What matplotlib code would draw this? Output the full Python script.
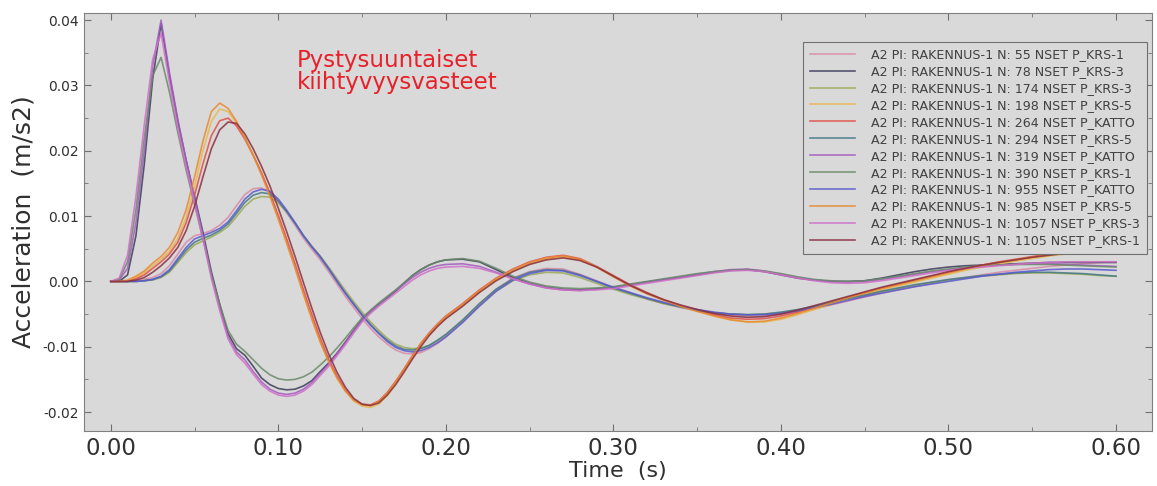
import numpy as np
import matplotlib
matplotlib.use("Agg")
import matplotlib.pyplot as plt
from matplotlib.ticker import MultipleLocator, FormatStrFormatter

# time grid (s): 5 ms steps to 0.20 s, then 10 ms steps to 0.60 s
time_s = np.concatenate([np.round(np.arange(0, 0.2001, 0.005), 3),
                         np.round(np.arange(0.21, 0.6001, 0.01), 2)])

# accelerations in units of 1e-3 m/s2
n55 = [0, 0, 0, 0.1, 0.3, 0.6, 1.2, 2.4, 4.2, 6.0, 7.0, 7.3, 7.8, 8.6, 9.8, 11.6, 13.3, 14.2, 14.3, 13.7,
       12.3, 10.5, 8.6, 6.6, 4.9, 3.3, 1.5, -0.4, -2.3, -4.0, -5.7, -7.2, -8.5, -9.6, -10.5, -11.0, -11.1, -10.9, -10.3, -9.5,
       -8.5,
       -6.1, -3.5, -1.2, 0.5, 1.5, 2.0, 1.9, 1.1, 0.1, -0.9, -1.8, -2.7, -3.4, -4.0, -4.5, -4.9, -5.2, -5.3, -5.3, -5.1,
       -4.7, -4.2, -3.6, -3.0, -2.4, -1.8, -1.3, -0.8, -0.3, 0.2, 0.6, 1.0, 1.4, 1.7, 2.0, 2.3, 2.5, 2.7, 2.9, 3.0]
n78 = [0, 0, 1.0, 7, 18, 31, 39.5, 31.5, 24.5, 18.5, 13, 7.5, 1.5, -3.5, -8, -10.3, -11.3, -13, -14.8, -15.8,
       -16.4, -16.6, -16.5, -16, -15.2, -13.8, -12.5, -11, -9.3, -7.5, -5.8, -4.6, -3.5, -2.5, -1.5, -0.3, 0.9, 1.8, 2.5, 3.0,
       3.3,
       3.4, 3.0, 1.8, 0.6, -0.3, -0.9, -1.2, -1.3, -1.1, -0.9, -0.5, -0.1, 0.3, 0.6, 1.0, 1.4, 1.7, 1.8, 1.5, 1.0,
       0.5, 0.2, 0.0, 0.0, 0.1, 0.5, 1.0, 1.5, 1.9, 2.2, 2.4, 2.5, 2.6, 2.7, 2.8, 2.9, 2.9, 2.9, 2.9, 2.9]
n174 = [0, 0, 0, 0, 0.1, 0.2, 0.6, 1.4, 2.9, 4.4, 5.6, 6.2, 6.8, 7.5, 8.4, 9.9, 11.5, 12.6, 13.0, 12.9,
        12.0, 10.6, 8.9, 7.0, 5.4, 3.9, 2.2, 0.4, -1.4, -3.1, -4.7, -6.2, -7.5, -8.7, -9.6, -10.1, -10.3, -10.2, -9.8, -9.1,
        -8.2,
        -6.1, -3.7, -1.5, 0.1, 1.0, 1.4, 1.3, 0.6, -0.3, -1.2, -2.0, -2.7, -3.4, -3.9, -4.4, -4.8, -5.0, -5.1, -5.0, -4.8,
        -4.4, -3.9, -3.3, -2.7, -2.1, -1.6, -1.1, -0.6, -0.2, 0.2, 0.5, 0.8, 1.0, 1.2, 1.3, 1.3, 1.2, 1.1, 0.9, 0.8]
n198 = [0, 0, 0.1, 0.6, 1.3, 2.4, 3.4, 4.6, 6.6, 9.8, 14.5, 20, 24.5, 26.4, 26.0, 24.3, 22.0, 19.4, 16.5, 13.3,
        9.8, 6.1, 2.3, -1.7, -5.5, -9.0, -12.1, -14.7, -16.8, -18.3, -19.1, -19.3, -18.8, -17.5, -15.8, -13.8, -11.8, -9.8, -8.2, -6.8,
        -5.6,
        -3.7, -1.6, 0.2, 1.6, 2.7, 3.4, 3.7, 3.3, 2.2, 0.8, -0.6, -1.8, -2.8, -3.7, -4.5, -5.2, -5.8, -6.2, -6.2, -5.8,
        -5.1, -4.3, -3.5, -2.7, -2.0, -1.3, -0.7, -0.1, 0.5, 1.1, 1.7, 2.2, 2.7, 3.1, 3.5, 3.9, 4.2, 4.4, 4.6, 4.7]
n264 = [0, 0, 0, 0.4, 1.0, 2.0, 3.0, 4.2, 6.0, 9.0, 13.2, 18.0, 22.3, 24.6, 25.0, 23.8, 21.8, 19.3, 16.6, 13.5,
        10.1, 6.5, 2.7, -1.3, -5.1, -8.7, -11.9, -14.5, -16.6, -18.1, -18.8, -18.9, -18.3, -17.0, -15.3, -13.4, -11.4, -9.5, -7.9, -6.5,
        -5.3,
        -3.4, -1.3, 0.5, 1.9, 3.0, 3.7, 4.0, 3.5, 2.3, 0.9, -0.5, -1.7, -2.8, -3.7, -4.5, -5.1, -5.6, -5.8, -5.7, -5.3,
        -4.7, -4.0, -3.2, -2.4, -1.7, -1.0, -0.4, 0.2, 0.8, 1.4, 2.0, 2.5, 3.0, 3.4, 3.8, 4.2, 4.5, 4.8, 5.0, 5.1]
n294 = [0, 0, 0, 0, 0.1, 0.3, 0.7, 1.6, 3.2, 4.8, 6.0, 6.6, 7.1, 7.8, 8.8, 10.4, 12.1, 13.2, 13.6, 13.4,
        12.3, 10.7, 8.9, 7.0, 5.3, 3.7, 1.9, 0.0, -1.8, -3.5, -5.1, -6.6, -7.9, -9.0, -9.9, -10.4, -10.5, -10.3, -9.8, -9.0,
        -8.1,
        -5.9, -3.4, -1.2, 0.4, 1.4, 1.8, 1.7, 1.0, 0.0, -1.0, -1.8, -2.6, -3.3, -3.9, -4.4, -4.8, -5.0, -5.1, -5.0, -4.7,
        -4.3, -3.8, -3.2, -2.6, -2.1, -1.5, -1.0, -0.5, -0.1, 0.3, 0.6, 0.9, 1.1, 1.3, 1.4, 1.4, 1.3, 1.2, 1.0, 0.8]
n319 = [0, 0.2, 2, 9, 20, 33, 40, 32, 24.8, 18.5, 12.8, 7, 1, -4, -8.5, -10.8, -12, -13.8, -15.4, -16.5,
        -17.1, -17.3, -17.1, -16.5, -15.5, -14.1, -12.7, -11.1, -9.4, -7.6, -5.9, -4.6, -3.5, -2.4, -1.4, -0.4, 0.6, 1.4, 2.0, 2.4,
        2.6,
        2.7, 2.3, 1.4, 0.4, -0.4, -1.0, -1.3, -1.4, -1.2, -0.9, -0.5, -0.1, 0.3, 0.7, 1.1, 1.5, 1.8, 1.9, 1.6, 1.1,
        0.6, 0.2, 0.0, -0.1, 0.0, 0.3, 0.7, 1.1, 1.5, 1.8, 2.1, 2.3, 2.5, 2.6, 2.7, 2.7, 2.6, 2.5, 2.4, 2.3]
n390 = [0, 0.3, 3, 11, 22, 31.5, 34.3, 29, 22.8, 17, 11.8, 6.5, 1.0, -3.5, -7.5, -9.6, -10.7, -12, -13.3, -14.3,
        -14.9, -15.1, -15.0, -14.6, -13.9, -12.8, -11.6, -10.2, -8.7, -7.1, -5.6, -4.4, -3.3, -2.3, -1.3, -0.2, 0.9, 1.8, 2.5, 3.0,
        3.3,
        3.5, 3.1, 2.0, 0.8, -0.1, -0.7, -1.0, -1.1, -1.0, -0.8, -0.4, 0.0, 0.4, 0.8, 1.2, 1.5, 1.7, 1.8, 1.6, 1.2,
        0.7, 0.3, 0.1, 0.0, 0.1, 0.4, 0.8, 1.2, 1.6, 1.9, 2.2, 2.4, 2.5, 2.6, 2.6, 2.6, 2.5, 2.4, 2.3, 2.2]
n955 = [0, 0, 0, 0, 0.1, 0.3, 0.8, 1.8, 3.5, 5.2, 6.5, 7.0, 7.5, 8.1, 9.1, 10.8, 12.6, 13.7, 14.1, 13.8,
        12.6, 10.9, 9.0, 7.0, 5.3, 3.8, 2.0, 0.1, -1.8, -3.5, -5.2, -6.7, -8.0, -9.2, -10.1, -10.6, -10.8, -10.6, -10.1, -9.4,
        -8.5,
        -6.3, -3.8, -1.5, 0.2, 1.2, 1.7, 1.6, 0.9, 0.0, -0.9, -1.7, -2.5, -3.2, -3.8, -4.3, -4.7, -5.0, -5.1, -5.1, -4.9,
        -4.5, -4.0, -3.5, -2.9, -2.3, -1.8, -1.3, -0.8, -0.4, 0.0, 0.4, 0.8, 1.1, 1.4, 1.6, 1.8, 1.9, 1.9, 1.8, 1.7]
n985 = [0, 0, 0.2, 0.8, 1.6, 2.8, 3.8, 5.2, 7.5, 11, 16, 21.5, 26, 27.3, 26.5, 24.5, 22, 19.3, 16.3, 13,
        9.5, 5.8, 2, -2, -5.8, -9.3, -12.3, -14.8, -16.8, -18.2, -18.9, -19.0, -18.4, -17.1, -15.4, -13.5, -11.5, -9.6, -8.0, -6.6,
        -5.4,
        -3.5, -1.4, 0.4, 1.8, 2.9, 3.6, 3.9, 3.4, 2.2, 0.7, -0.7, -1.9, -2.9, -3.8, -4.6, -5.3, -5.9, -6.2, -6.1, -5.6,
        -4.9, -4.1, -3.3, -2.5, -1.8, -1.1, -0.5, 0.1, 0.7, 1.3, 1.9, 2.4, 2.9, 3.3, 3.7, 4.1, 4.4, 4.7, 4.9, 5.0]
n1057 = [0, 0.5, 4, 13, 24, 34, 38, 30.5, 23.5, 17.5, 12, 6.5, 0.5, -4.5, -8.8, -11.2, -12.5, -14.2, -15.8, -16.8,
         -17.4, -17.6, -17.4, -16.8, -15.8, -14.4, -13, -11.4, -9.7, -7.9, -6.2, -4.9, -3.8, -2.8, -1.8, -0.8, 0.2, 1.0, 1.6, 2.0,
         2.2,
         2.3, 2.0, 1.3, 0.4, -0.4, -1.0, -1.3, -1.4, -1.3, -1.1, -0.7, -0.3, 0.1, 0.5, 0.9, 1.3, 1.6, 1.7, 1.5, 1.0,
         0.5, 0.1, -0.2, -0.3, -0.2, 0.1, 0.5, 0.9, 1.3, 1.7, 2.0, 2.2, 2.4, 2.6, 2.8, 2.9, 3.0, 3.0, 3.0, 3.0]
n1105 = [0, 0, 0, 0.2, 0.6, 1.4, 2.4, 3.6, 5.2, 7.8, 11.5, 16.0, 20.3, 23.2, 24.4, 24.2, 22.6, 20.3, 17.6, 14.6,
         11.2, 7.6, 3.8, -0.2, -4.1, -7.8, -11.1, -13.9, -16.2, -17.9, -18.8, -19.0, -18.6, -17.4, -15.8, -13.9, -11.9, -10.0, -8.3, -6.9,
         -5.7,
         -3.8, -1.7, 0.1, 1.5, 2.6, 3.3, 3.6, 3.2, 2.2, 0.8, -0.6, -1.8, -2.8, -3.6, -4.3, -4.9, -5.3, -5.5, -5.4, -5.0,
         -4.4, -3.7, -3.0, -2.3, -1.6, -0.9, -0.3, 0.3, 0.9, 1.5, 2.0, 2.5, 2.9, 3.3, 3.7, 4.0, 4.3, 4.5, 4.7, 4.8]

labels = [
    "A2 PI: RAKENNUS-1 N: 55 NSET P_KRS-1",
    "A2 PI: RAKENNUS-1 N: 78 NSET P_KRS-3",
    "A2 PI: RAKENNUS-1 N: 174 NSET P_KRS-3",
    "A2 PI: RAKENNUS-1 N: 198 NSET P_KRS-5",
    "A2 PI: RAKENNUS-1 N: 264 NSET P_KATTO",
    "A2 PI: RAKENNUS-1 N: 294 NSET P_KRS-5",
    "A2 PI: RAKENNUS-1 N: 319 NSET P_KATTO",
    "A2 PI: RAKENNUS-1 N: 390 NSET P_KRS-1",
    "A2 PI: RAKENNUS-1 N: 955 NSET P_KATTO",
    "A2 PI: RAKENNUS-1 N: 985 NSET P_KRS-5",
    "A2 PI: RAKENNUS-1 N: 1057 NSET P_KRS-3",
    "A2 PI: RAKENNUS-1 N: 1105 NSET P_KRS-1",
]
series = [n55, n78, n174, n198, n264, n294, n319, n390, n955, n985, n1057, n1105]
colors = ["#d88aa8", "#3c3c5a", "#9aaa55", "#e6b850", "#e0504a", "#467888",
          "#a45cc0", "#6a8a6a", "#5a5ad0", "#e88a30", "#d070c8", "#8a3040"]

fig = plt.figure(figsize=(11.57, 4.86), dpi=100)
ax = fig.add_axes([0.0726, 0.1132, 0.9231, 0.8601])
ax.set_facecolor("#d9d9d9")

for vals, lab, col in zip(series, labels, colors):
    ax.plot(time_s, np.array(vals) * 1e-3, color=col, lw=1.2, alpha=0.85, label=lab)

ax.set_xlim(-0.016, 0.6215)
ax.set_ylim(-0.0229, 0.0411)
ax.xaxis.set_major_locator(MultipleLocator(0.1))
ax.xaxis.set_minor_locator(MultipleLocator(0.05))
ax.yaxis.set_major_locator(MultipleLocator(0.01))
ax.yaxis.set_minor_locator(MultipleLocator(0.005))
ax.xaxis.set_major_formatter(FormatStrFormatter("%.2f"))
ax.yaxis.set_major_formatter(FormatStrFormatter("%.2f"))
ax.tick_params(which="both", direction="in", top=True, right=True, color="#707070")
ax.tick_params(which="major", length=5)
ax.tick_params(which="minor", length=3)
ax.tick_params(axis="x", labelsize=16.5, labelcolor="#303030", pad=4)
ax.tick_params(axis="y", labelsize=10, labelcolor="#303030", pad=4)
for sp in ax.spines.values():
    sp.set_color("#808080")

ax.set_xlabel("Time  (s)", fontsize=16, color="#303030", labelpad=1)
ax.set_ylabel("Acceleration  (m/s2)", fontsize=18, color="#303030", labelpad=5)

ax.text(0.111, 0.0356, "Pystysuuntaiset\nkiihtyvyysvasteet", color="#e8202a",
        fontsize=16.5, va="top", ha="left", linespacing=0.95)

leg = ax.legend(loc="upper right", bbox_to_anchor=(0.995, 0.931), borderaxespad=0,
                fontsize=9.1, frameon=True, fancybox=False, edgecolor="#707070",
                facecolor="#d9d9d9", framealpha=1, labelspacing=0.31,
                handlelength=3.6, handletextpad=1.3, borderpad=0.5)
for t in leg.get_texts():
    t.set_color("#404040")
leg.get_frame().set_linewidth(0.8)

fig.savefig("out.png", dpi=100)
